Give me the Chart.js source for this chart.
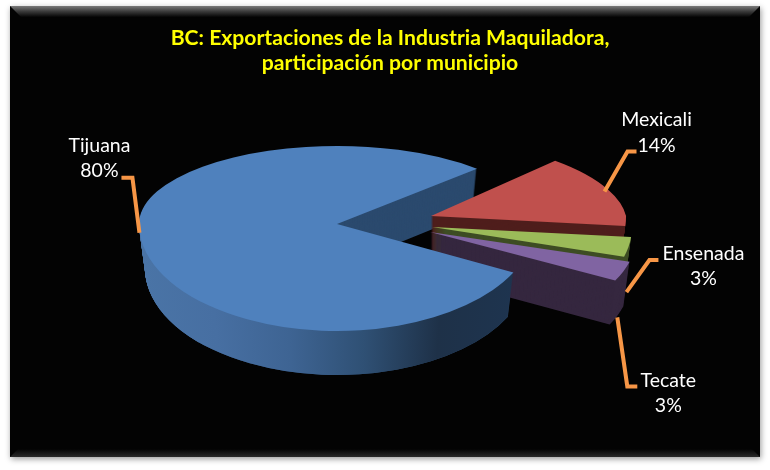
<!DOCTYPE html>
<html>
<head>
<meta charset="utf-8">
<title>BC: Exportaciones</title>
<script src="https://cdn.jsdelivr.net/npm/chart.js@4/dist/chart.umd.min.js"></script>
<style>
    html, body { margin: 0; padding: 0; background: #fff; }
    canvas { display: block; }
</style>
</head>
<body>
<canvas id="pieChart" width="770" height="470"></canvas>
<script>
// Data
const categories = ['Tijuana', 'Mexicali', 'Ensenada', 'Tecate'];
const shares = [80, 14, 3, 3];
const titleLines = ['BC: Exportaciones de la Industria Maquiladora,', 'participación por municipio'];

// Colours
const topColors = ['#4f81bd', '#c0504d', '#9bbb59', '#8064a2'];
const wallColors = ['#2b4a6e', '#4f1e1c', '#3e4d24', '#35273f'];
const rimStops = ['#4a74a6', '#476fa2', '#3e6493', '#2f5074', '#1e3148', '#1e344f'];

// Fake 3D layout: the pie is squashed more above its apex than below it
const pie = { x: 337, y: 224, radius: 198, up: 78, down: 107, depth: 44, shrink: 0.03 };
const explode = [
    { dx: 0, dy: 0, sx: 1, skew: 0 },
    { dx: 94, dy: -8, sx: 0.985, skew: 0.25 },
    { dx: 95, dy: 3, sx: 1.01, skew: 0 },
    { dx: 93, dy: 8, sx: 1.05, skew: 0 }
];

// Label and leader line offsets, measured from the rim point of each slice
const labelLayout = [
    { text: [[-42, -95], [-42, -70]], leader: [[-20, -63], [-9, -63], [-2, -8]] },
    { text: [[42, -70], [42, -44]], leader: [[22, -38], [13, -38], [-10, 2]] },
    { text: [[75, 7], [75, 32]], leader: [[30, 13], [21, 13], [-2, 45]] },
    { text: [[45, 109], [45, 134]], leader: [[14, 115], [4, 115], [-6, 46]] }
];

function drawSquashed(ctx, arc, i, layer, fill) {
    const shift = explode[i];
    const cy = pie.y + shift.dy + layer;
    const sx = shift.sx * (1 - pie.shrink * layer / pie.depth);
    const savedOptions = arc.options;
    arc.options = Object.assign({}, savedOptions, { backgroundColor: fill, borderWidth: 0 });

    [[0, cy, pie.up / pie.radius, shift.skew], [cy, 470 - cy, pie.down / pie.radius, 0]].forEach(function(part) {
        ctx.save();
        ctx.beginPath();
        ctx.rect(0, part[0], 770, part[1]);
        ctx.clip();
        ctx.translate(pie.x + shift.dx, cy);
        ctx.transform(1, 0, part[3], 1, 0, 0);
        ctx.scale(sx, part[2]);
        ctx.translate(-arc.x, -arc.y);
        arc.draw(ctx);
        ctx.restore();
    });

    arc.options = savedOptions;
}

function drawWall(ctx, arc, i, fill) {
    for (let layer = pie.depth; layer >= 1; layer--) {
        drawSquashed(ctx, arc, i, layer, fill);
    }
}

function rimPoint(arc, i) {
    const shift = explode[i];
    const mid = (arc.startAngle + arc.endAngle) / 2;
    const sin = Math.sin(mid);
    return {
        x: pie.x + shift.dx + pie.radius * shift.sx * Math.cos(mid),
        y: pie.y + shift.dy + (sin < 0 ? pie.up : pie.down) * sin
    };
}

const framePlugin = {
    id: 'frame',
    beforeDraw(chart) {
        const ctx = chart.ctx;
        ctx.save();
        ctx.fillStyle = '#fff';
        ctx.fillRect(0, 0, 770, 470);
        ctx.shadowColor = 'rgba(0,0,0,0.4)';
        ctx.shadowBlur = 6;
        ctx.shadowOffsetX = 1;
        ctx.shadowOffsetY = 2;
        ctx.fillStyle = '#030303';
        ctx.fillRect(10, 6, 750, 451);
        ctx.shadowColor = 'transparent';

        // Bevel on the top and bottom edges
        const bevel = ctx.createLinearGradient(0, 6, 0, 17);
        bevel.addColorStop(0, '#7a7a7a');
        bevel.addColorStop(0.5, '#3a3a3a');
        bevel.addColorStop(1, '#050505');
        ctx.fillStyle = bevel;
        ctx.beginPath();
        ctx.moveTo(10, 6);
        ctx.lineTo(760, 6);
        ctx.lineTo(749, 17);
        ctx.lineTo(21, 17);
        ctx.closePath();
        ctx.fill();

        const bottom = ctx.createLinearGradient(0, 449, 0, 457);
        bottom.addColorStop(0, '#030303');
        bottom.addColorStop(1, '#2a2a2a');
        ctx.fillStyle = bottom;
        ctx.beginPath();
        ctx.moveTo(18, 449);
        ctx.lineTo(752, 449);
        ctx.lineTo(760, 457);
        ctx.lineTo(10, 457);
        ctx.closePath();
        ctx.fill();
        ctx.restore();
    }
};

const pie3dPlugin = {
    id: 'pie3d',
    beforeDatasetsDraw(chart) {
        const ctx = chart.ctx;
        const arcs = chart.getDatasetMeta(0).data;

        // Wedge wall of the big slice goes behind the exploded ones
        drawWall(ctx, arcs[0], 0, wallColors[0]);

        [1, 2, 3].forEach(function(i) {
            drawWall(ctx, arcs[i], i, wallColors[i]);
            drawSquashed(ctx, arcs[i], i, 0, topColors[i]);
        });

        // Outer wall of the big slice sits in front of them
        const rim = ctx.createLinearGradient(arcs[0].x - pie.radius, 0, arcs[0].x + 178, 0);
        rimStops.forEach(function(color, n) {
            rim.addColorStop(n / (rimStops.length - 1), color);
        });
        const rimTop = pie.y + pie.down * Math.sin(arcs[0].startAngle);
        ctx.save();
        ctx.beginPath();
        ctx.rect(0, rimTop, 770, 470 - rimTop);
        ctx.clip();
        drawWall(ctx, arcs[0], 0, rim);
        ctx.restore();

        // Same gradient round the left side, above the cut line
        ctx.save();
        ctx.beginPath();
        ctx.rect(0, pie.y, pie.x - pie.radius + 60, 470 - pie.y);
        ctx.clip();
        drawWall(ctx, arcs[0], 0, rim);
        ctx.restore();

        drawSquashed(ctx, arcs[0], 0, 0, topColors[0]);
        return false;
    },
    afterDraw(chart) {
        const ctx = chart.ctx;
        const arcs = chart.getDatasetMeta(0).data;
        ctx.save();
        ctx.textAlign = 'center';
        ctx.textBaseline = 'middle';
        ctx.font = '19.5px Lato';
        arcs.forEach(function(arc, i) {
            const anchor = rimPoint(arc, i);
            const layout = labelLayout[i];

            ctx.strokeStyle = '#f79646';
            ctx.lineWidth = 4;
            ctx.beginPath();
            layout.leader.forEach(function(p, n) {
                if (n === 0) ctx.moveTo(anchor.x + p[0], anchor.y + p[1]);
                else ctx.lineTo(anchor.x + p[0], anchor.y + p[1]);
            });
            ctx.stroke();

            ctx.fillStyle = '#fff';
            ctx.fillText(categories[i], anchor.x + layout.text[0][0], anchor.y + layout.text[0][1]);
            ctx.fillText(shares[i] + '%', anchor.x + layout.text[1][0], anchor.y + layout.text[1][1]);
        });
        ctx.restore();
    }
};

new Chart(document.getElementById('pieChart').getContext('2d'), {
    type: 'pie',
    data: {
        labels: categories,
        datasets: [{
            data: shares,
            backgroundColor: topColors,
            borderWidth: 0
        }]
    },
    options: {
        responsive: false,
        animation: false,
        rotation: 117,
        radius: pie.radius,
        layout: { padding: { left: 10 } },
        plugins: {
            legend: { display: false },
            tooltip: { enabled: false },
            title: {
                display: true,
                text: titleLines,
                color: '#ffff00',
                font: { family: 'Lato', size: 21.15, weight: 'bold', lineHeight: 1.18 },
                padding: { top: 26, bottom: 10 }
            }
        }
    },
    plugins: [framePlugin, pie3dPlugin]
});
</script>
</body>
</html>
